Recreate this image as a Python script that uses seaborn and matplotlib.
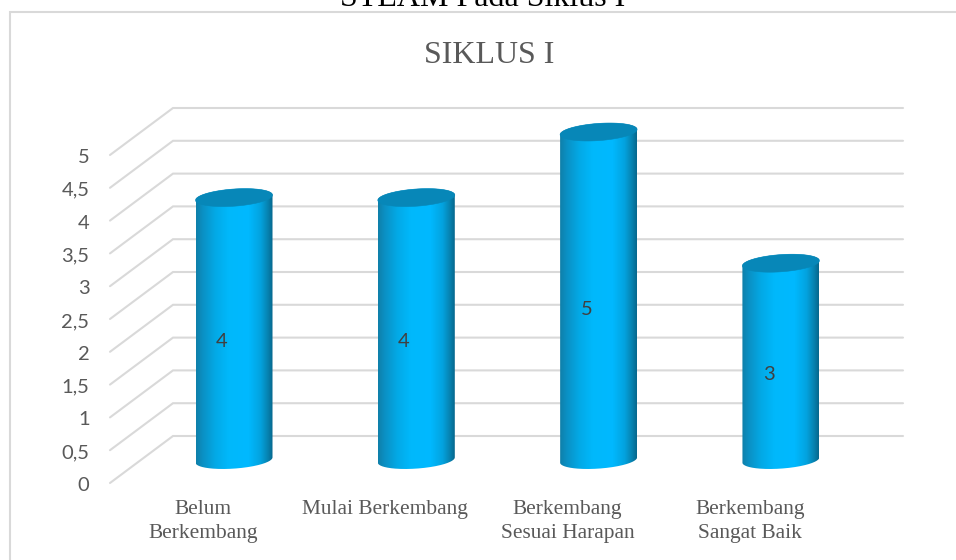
import numpy as np
import pandas as pd
import matplotlib
matplotlib.use("Agg")
import matplotlib.pyplot as plt
from matplotlib.colors import LinearSegmentedColormap
from matplotlib.patches import PathPatch, Polygon
from matplotlib.path import Path
import seaborn as sns

categories = ["Belum\nBerkembang", "Mulai Berkembang", "Berkembang\nSesuai Harapan", "Berkembang\nSangat Baik"]
values = [4, 4, 5, 3]
tick_values = [0, 0.5, 1, 1.5, 2, 2.5, 3, 3.5, 4, 4.5, 5]
tick_labels = ["0", "0,5", "1", "1,5", "2", "2,5", "3", "3,5", "4", "4,5", "5"]

W, H = 956, 560
PX_X, PX_Y = 182.3, 65.6     # pixels per category / per unit
X0, Y0 = 234.0, 460.0        # pixel position of the first category at value 0
BAR_W = 77 / PX_X

sns.set_theme(style="white")
plt.rcParams["font.family"] = ["Liberation Serif", "DejaVu Serif"]
LABEL_FONT = ["Lato", "DejaVu Sans"]

fig = plt.figure(figsize=(W / 100, H / 100), dpi=100, facecolor="white")
ax = fig.add_axes([0, 0, 1, 1])

df = pd.DataFrame({"kategori": categories, "nilai": values})
sns.barplot(data=df, x="kategori", y="nilai", color="#00b0f0", width=BAR_W,
            saturation=1, ax=ax, zorder=3)

xlim = (-X0 / PX_X, (W - X0) / PX_X)
ylim = ((Y0 - H) / PX_Y, Y0 / PX_Y)
ax.set_xlim(xlim)
ax.set_ylim(ylim)
ax.axis("off")

# Receding wall: front edge, back edge and right end of every grid line
front_x, back_x, right_x = (110 - X0) / PX_X, (173 - X0) / PX_X, (903 - X0) / PX_X
front_dy, back_dy = -23 / PX_Y, 24 / PX_Y
for v, label in zip(tick_values, tick_labels):
    ax.plot([front_x, back_x, right_x], [v + front_dy, v + back_dy, v + back_dy],
            color="#d9d9d9", lw=1.5, zorder=1, solid_joinstyle="miter")
    ax.text((89.5 - X0) / PX_X, v + front_dy - 2.5 / PX_Y, label,
            ha="right", va="center", fontsize=14.5, color="#595959", family=LABEL_FONT)


def ring(cx, v, start=0.0, stop=2 * np.pi):
    """Outline of a slightly tilted cylinder end, in data coordinates."""
    t = np.linspace(start, stop, 121)
    dx = BAR_W / 2 * np.cos(t)
    dy_px = 2.6 * np.cos(t) + 8.6 * np.sin(t)
    return np.column_stack([cx + dx, v + dy_px / PX_Y])


shade = LinearSegmentedColormap.from_list(
    "cyl", [(0.0, "#0f7fa9"), (0.08, "#0b8fc2"), (0.25, "#03a9e6"), (0.42, "#00b8fb"),
            (0.68, "#00b9ff"), (0.84, "#03a3df"), (0.94, "#0781ae"), (1.0, "#06678d")])
gradient = np.linspace(0, 1, 256).reshape(1, -1)

for patch, cx, v in zip(list(ax.patches), range(len(values)), values):
    # Side of the cylinder: top edge closed by the lower half of the base ring
    top = ring(cx, v, 0.0, np.pi)
    lower = ring(cx, 0, np.pi, 2 * np.pi)
    outline = np.vstack([top, lower, top[0]])
    clip = PathPatch(Path(outline), transform=ax.transData, fc="none", ec="none")
    ax.add_patch(clip)
    img = ax.imshow(gradient, cmap=shade, aspect="auto", zorder=4, interpolation="bilinear",
                    extent=(cx - BAR_W / 2, cx + BAR_W / 2, -0.3, v + 0.3))
    img.set_clip_path(clip)
    patch.set_visible(False)
    ax.add_patch(Polygon(ring(cx, v), closed=True, fc="#0787b8", ec="#0787b8", lw=0.4, zorder=5))
    ax.annotate(str(v), (cx, v / 2), xytext=(-8.8, -9.5), textcoords="offset points",
                ha="center", va="center", fontsize=14.5, color="#404040", zorder=6,
                family=LABEL_FONT)

ax.set_xlim(xlim)
ax.set_ylim(ylim)

# Category labels beneath the floor
for i, name in enumerate(categories):
    ax.text(i - 31 / PX_X, (Y0 - 500) / PX_Y, name, ha="center", va="top", fontsize=15.4,
            color="#595959", linespacing=1.37)

# Chart frame: only the top and left sides fall inside the canvas
ax.plot([9.5 / W, 9.5 / W, 1], [0, 1 - 11.5 / H, 1 - 11.5 / H], transform=ax.transAxes,
        color="#d9d9d9", lw=1.5, zorder=0, solid_joinstyle="miter")
fig.text(489.5 / W, 1 - 55.5 / H, "SIKLUS I", ha="center", va="center", fontsize=23, color="#595959")
fig.text(482.5 / W, 1 - 5.5 / H, "STEAM Pada Siklus I", ha="center", va="baseline", fontsize=23,
         color="black")

fig.savefig("out.png", dpi=100)
